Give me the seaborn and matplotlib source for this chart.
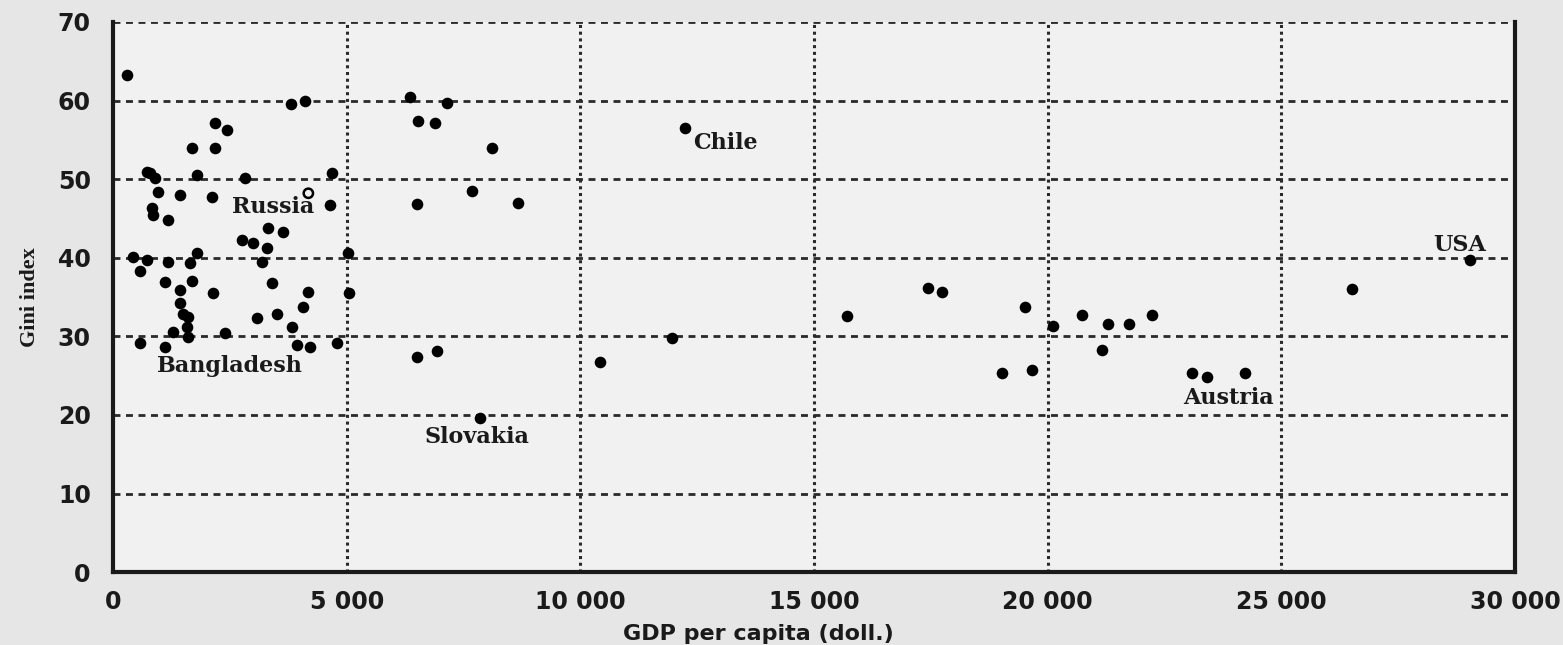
import numpy as np
import pandas as pd
import seaborn as sns
from matplotlib import pyplot as plt
from matplotlib.ticker import FuncFormatter

sns.set_theme(style="white")
plt.rcParams["font.family"] = ["DejaVu Sans"]

# GDP per capita (doll.) and Gini index
gdp = [
    300, 3800, 4100, 2180, 2440, 1690, 2180,
    725, 790, 900, 1800, 2830, 4690, 970, 1430, 2120, 4640,
    830, 860, 1180, 3320, 3640, 2760, 3000, 3290,
    1800, 430, 730, 1180, 1650, 3190, 5030,
    580, 1110, 1690, 1430, 2140, 3400, 4170, 5050,
    1430, 1500, 1600, 4070, 3080, 3510,
    1580, 1290, 1610, 2400, 3830,
    580, 1110, 3940, 4220, 4800,
    6360, 7140, 6530, 6890, 8110, 7680, 6500, 8670,
    6930, 6500, 10420, 7850, 12240, 11960,
    15710, 17440, 17740, 19520, 20120, 20740, 21300, 21730, 22240,
    21160, 19020, 19670, 23090, 23410, 24220, 26510, 29040,
]
gini = [
    63.2, 59.6, 60.0, 57.2, 56.2, 54.0, 54.0,
    50.9, 50.8, 50.1, 50.5, 50.1, 50.8, 48.3, 48.0, 47.7, 46.7,
    46.3, 45.4, 44.8, 43.8, 43.3, 42.2, 41.9, 41.2,
    40.6, 40.1, 39.7, 39.4, 39.3, 39.4, 40.6,
    38.3, 36.9, 37.1, 35.9, 35.5, 36.8, 35.6, 35.5,
    34.2, 32.9, 32.4, 33.7, 32.3, 32.9,
    31.2, 30.5, 29.9, 30.4, 31.2,
    29.1, 28.6, 28.9, 28.6, 29.1,
    60.4, 59.7, 57.4, 57.2, 53.9, 48.5, 46.8, 46.9,
    28.1, 27.4, 26.7, 19.6, 56.5, 29.8,
    32.6, 36.1, 35.6, 33.7, 31.3, 32.7, 31.6, 31.6, 32.7,
    28.2, 25.3, 25.7, 25.3, 24.8, 25.3, 36.0, 39.7,
]
russia_gdp = [4180]
russia_gini = [48.2]

label_names = ["Russia", "Chile", "Bangladesh", "Slovakia", "Austria", "USA"]
label_x = [3430, 13100, 2500, 7780, 23870, 28820]
label_y = [46.4, 54.6, 26.2, 17.2, 22.1, 41.6]

df = pd.DataFrame({"gdp": gdp, "gini": gini})

fig = plt.figure(figsize=(15.63, 6.45), dpi=100, facecolor="#e6e6e6")
ax = fig.add_axes([0.0723, 0.113, 0.8970, 0.853])
ax.set_facecolor("#f1f1f1")

ax.set_xlim(0, 30000)
ax.set_ylim(0, 70)
ax.set_xticks(range(0, 30001, 5000))
ax.set_yticks(range(0, 71, 10))

# grid: dashed horizontals, dotted verticals
for yv in range(10, 71, 10):
    ax.axhline(yv, color="#2a2a2a", lw=2.0, ls=(0, (2.5, 2.0)), zorder=1)
for xv in range(5000, 30000, 5000):
    ax.axvline(xv, color="#2a2a2a", lw=2.2, ls=(0, (1.0, 1.2)), zorder=1)

sns.scatterplot(data=df, x="gdp", y="gini", ax=ax, color="black",
                s=70, edgecolor="black", linewidth=0, zorder=3, legend=False)
sns.scatterplot(x=russia_gdp, y=russia_gini, ax=ax, s=45, facecolor="none",
                edgecolor="black", linewidth=1.8, zorder=3, legend=False)

for name, lx, ly in zip(label_names, label_x, label_y):
    ax.text(lx, ly, name, ha="center", va="center", fontsize=16,
            fontweight="bold", family="DejaVu Serif", color="#1a1a1a", zorder=4)

for side in ["left", "bottom", "right"]:
    ax.spines[side].set_visible(True)
    ax.spines[side].set_color("#1a1a1a")
    ax.spines[side].set_linewidth(3.0)
ax.spines["top"].set_visible(False)

ax.xaxis.set_major_formatter(FuncFormatter(lambda v, p: f"{int(v):,}".replace(",", " ")))
ax.tick_params(axis="both", direction="inout", length=10, width=2, color="#1a1a1a",
               labelsize=17, pad=8)
ax.tick_params(axis="y", pad=11)
for lab in ax.get_xticklabels() + ax.get_yticklabels():
    lab.set_fontweight("bold")
    lab.set_color("#1a1a1a")

ax.set_xlabel("GDP per capita (doll.)", fontsize=16, fontweight="bold",
              color="#1a1a1a", labelpad=3)
ax.xaxis.set_label_coords(0.46, -0.095)
ax.set_ylabel("Gini index", fontsize=16, fontweight="bold", family="Liberation Serif",
              color="#1a1a1a")
ax.yaxis.set_label_coords(-0.052, 0.5)

fig.savefig("out.png", dpi=100, facecolor=fig.get_facecolor())
